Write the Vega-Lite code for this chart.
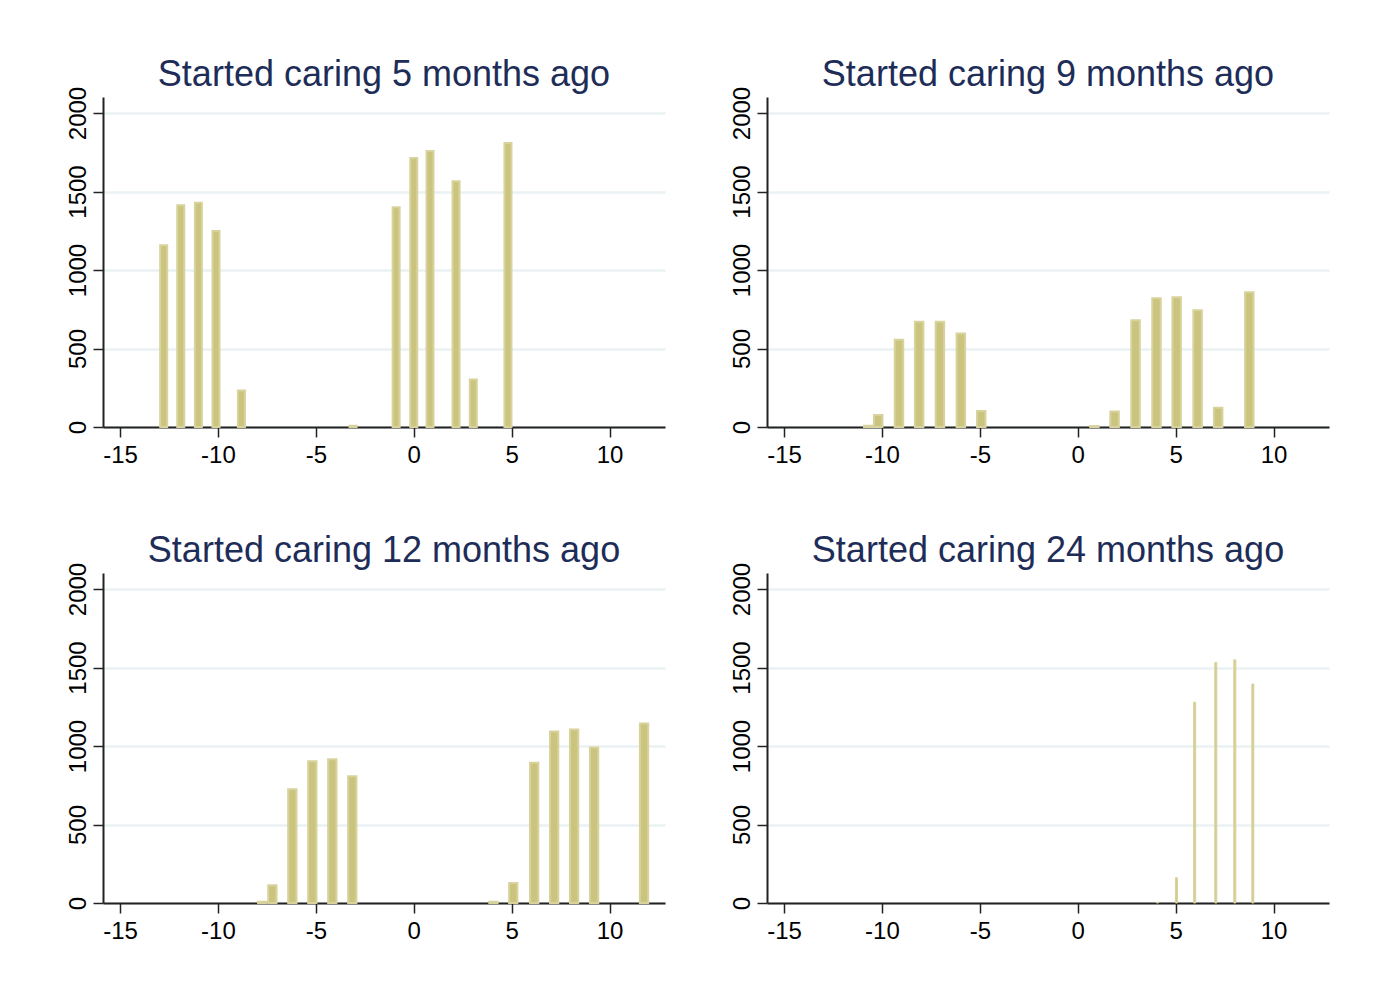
{
  "$schema": "https://vega.github.io/schema/vega-lite/v6.json",
  "background": "white",
  "padding": {"left": 65, "top": 57, "right": 20, "bottom": 20},
  "datasets": {
    "p5": [
      {"t": -12.77, "n": 1157}, {"t": -11.9, "n": 1413}, {"t": -11.0, "n": 1428}, {"t": -10.1, "n": 1249},
      {"t": -8.8, "n": 232}, {"t": -3.1, "n": 8}, {"t": -0.9, "n": 1400}, {"t": 0.0, "n": 1713},
      {"t": 0.83, "n": 1758}, {"t": 2.16, "n": 1566}, {"t": 3.04, "n": 302}, {"t": 4.81, "n": 1809}
    ],
    "p9": [
      {"t": -10.7, "n": 8}, {"t": -10.19, "n": 77}, {"t": -9.13, "n": 556}, {"t": -8.1, "n": 671},
      {"t": -7.04, "n": 671}, {"t": -5.97, "n": 595}, {"t": -4.93, "n": 102}, {"t": 0.85, "n": 6},
      {"t": 1.88, "n": 98}, {"t": 2.95, "n": 680}, {"t": 4.02, "n": 820}, {"t": 5.05, "n": 827},
      {"t": 6.12, "n": 744}, {"t": 7.17, "n": 123}, {"t": 8.76, "n": 859}
    ],
    "p12": [
      {"t": -7.74, "n": 8}, {"t": -7.22, "n": 113}, {"t": -6.2, "n": 724}, {"t": -5.18, "n": 903},
      {"t": -4.16, "n": 916}, {"t": -3.14, "n": 807}, {"t": 4.07, "n": 8}, {"t": 5.08, "n": 128},
      {"t": 6.15, "n": 894}, {"t": 7.17, "n": 1092}, {"t": 8.19, "n": 1105}, {"t": 9.21, "n": 990},
      {"t": 11.76, "n": 1144}
    ],
    "p24": [
      {"t": 4.07, "n": 5}, {"t": 5.04, "n": 161}, {"t": 5.97, "n": 1279}, {"t": 7.05, "n": 1532},
      {"t": 8.02, "n": 1549}, {"t": 8.94, "n": 1395}
    ]
  },
  "config": {
    "font": "Liberation Sans",
    "view": {"stroke": null},
    "axis": {
      "domainColor": "#222222",
      "domainWidth": 2,
      "tickColor": "#222222",
      "tickWidth": 1.5,
      "tickSize": 10,
      "labelFont": "Liberation Sans",
      "labelFontSize": 24,
      "labelColor": "#000000",
      "title": null,
      "gridColor": "#EAF2F3",
      "gridWidth": 2.5,
      "gridOpacity": 1,
      "labelExpr": "datum.value < 0 ? '-' + format(-datum.value, 'd') : format(datum.value, 'd')"
    },
    "axisX": {"grid": false, "labelPadding": 6, "labelFlush": false, "labelOverlap": false},
    "axisY": {"grid": true, "labelAngle": 270, "labelAlign": "center", "labelBaseline": "alphabetic", "labelPadding": 8, "labelFlush": false, "labelOverlap": false},
    "title": {"fontSize": 36, "fontWeight": "normal", "color": "#1E2D58", "font": "Liberation Sans", "anchor": "middle", "frame": "group", "offset": -8}
  },
  "columns": 2,
  "spacing": {"row": 146, "column": 102},
  "bounds": "flush",
  "concat": [
    {
      "title": "Started caring 5 months ago",
      "width": 562, "height": 330,
      "data": {"name": "p5"},
      "mark": {"type": "bar", "orient": "vertical", "size": 7, "fill": "#CBC47E", "stroke": "#D8D29D", "strokeWidth": 2},
      "encoding": {
        "x": {"field": "t", "type": "quantitative", "scale": {"domain": [-15.87, 12.83], "nice": false, "zero": false, "padding": 0}, "axis": {"values": [-15, -10, -5, 0, 5, 10]}},
        "y": {"field": "n", "type": "quantitative", "scale": {"domain": [0, 2102], "nice": false}, "axis": {"values": [0, 500, 1000, 1500, 2000]}}
      }
    },
    {
      "title": "Started caring 9 months ago",
      "width": 562, "height": 330,
      "data": {"name": "p9"},
      "mark": {"type": "bar", "orient": "vertical", "size": 8.5, "fill": "#CBC47E", "stroke": "#D8D29D", "strokeWidth": 2},
      "encoding": {
        "x": {"field": "t", "type": "quantitative", "scale": {"domain": [-15.87, 12.83], "nice": false, "zero": false, "padding": 0}, "axis": {"values": [-15, -10, -5, 0, 5, 10]}},
        "y": {"field": "n", "type": "quantitative", "scale": {"domain": [0, 2102], "nice": false}, "axis": {"values": [0, 500, 1000, 1500, 2000]}}
      }
    },
    {
      "title": "Started caring 12 months ago",
      "width": 562, "height": 330,
      "data": {"name": "p12"},
      "mark": {"type": "bar", "orient": "vertical", "size": 8.3, "fill": "#CBC47E", "stroke": "#D8D29D", "strokeWidth": 2},
      "encoding": {
        "x": {"field": "t", "type": "quantitative", "scale": {"domain": [-15.87, 12.83], "nice": false, "zero": false, "padding": 0}, "axis": {"values": [-15, -10, -5, 0, 5, 10]}},
        "y": {"field": "n", "type": "quantitative", "scale": {"domain": [0, 2102], "nice": false}, "axis": {"values": [0, 500, 1000, 1500, 2000]}}
      }
    },
    {
      "title": "Started caring 24 months ago",
      "width": 562, "height": 330,
      "data": {"name": "p24"},
      "mark": {"type": "bar", "orient": "vertical", "size": 2, "fill": "#D3CC8E", "stroke": "#D8D29D", "strokeWidth": 1},
      "encoding": {
        "x": {"field": "t", "type": "quantitative", "scale": {"domain": [-15.87, 12.83], "nice": false, "zero": false, "padding": 0}, "axis": {"values": [-15, -10, -5, 0, 5, 10]}},
        "y": {"field": "n", "type": "quantitative", "scale": {"domain": [0, 2102], "nice": false}, "axis": {"values": [0, 500, 1000, 1500, 2000]}}
      }
    }
  ]
}
